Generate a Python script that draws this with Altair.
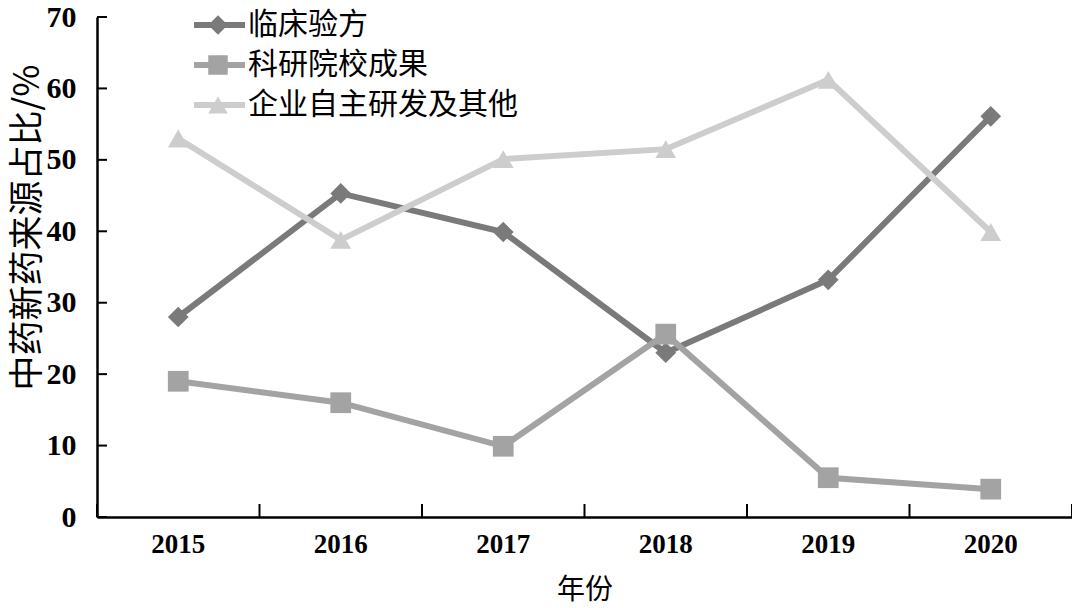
import altair as alt
import pandas as pd

years = ["2015", "2016", "2017", "2018", "2019", "2020"]
series = ["临床验方", "科研院校成果", "企业自主研发及其他"]
clinical = [28.0, 45.3, 39.9, 23.0, 33.2, 56.1]
research = [19.0, 16.0, 9.9, 25.6, 5.5, 3.9]
enterprise = [53.0, 38.8, 50.1, 51.5, 61.2, 39.9]
y_ticks = [0, 10, 20, 30, 40, 50, 60, 70]

colors = ["#7a7a7a", "#a3a3a3", "#cdcdcd"]
shapes = ["diamond", "square", "triangle-up"]

rows = []
for name, vals in zip(series, [clinical, research, enterprise]):
    for yr, v in zip(years, vals):
        rows.append({"year": yr, "series": name, "value": v})
df = pd.DataFrame(rows)

num_font = "Liberation Serif"
cjk_font = "Noto Sans CJK SC"

color_enc = alt.Color("series:N", scale=alt.Scale(domain=series, range=colors), legend=None)
shape_enc = alt.Shape("series:N", scale=alt.Scale(domain=series, range=shapes), legend=None)

x_enc = alt.X(
    "year:N",
    sort=years,
    scale=alt.Scale(domain=years, paddingInner=0, paddingOuter=0),
    axis=alt.Axis(
        title="年份",
        titleFont=cjk_font,
        titleFontSize=28,
        titleFontWeight="normal",
        titleColor="black",
        titleBaseline="middle",
        titleY=73,
        labelFont=num_font,
        labelFontSize=27,
        labelFontWeight="bold",
        labelColor="black",
        labelPadding=14,
        labelAngle=0,
        ticks=False,
        domainColor="black",
        domainWidth=2.5,
        grid=False,
    ),
)

y_enc = alt.Y(
    "value:Q",
    scale=alt.Scale(domain=[0, 70], nice=False, zero=True),
    axis=alt.Axis(
        title="中药新药来源占比/%",
        titleFont=cjk_font,
        titleFontSize=35,
        titleFontWeight="normal",
        titleColor="black",
        titleAngle=-90,
        titleAlign="center",
        titleBaseline="middle",
        titleX=-70,
        titleY=210,
        values=y_ticks,
        labelFont=num_font,
        labelFontSize=30,
        labelFontWeight="bold",
        labelColor="black",
        labelPadding=21,
        ticks=False,
        domainColor="black",
        domainWidth=2.5,
        grid=False,
    ),
)

base = alt.Chart(df)

lines = base.mark_line(strokeWidth=6).encode(x=x_enc, y=y_enc, color=color_enc, detail="series:N")
points = base.mark_point(filled=True, opacity=1, size=430).encode(
    x=alt.X("year:N", sort=years), y="value:Q", color=color_enc, shape=shape_enc
)

tick_df = pd.DataFrame({"year": years})
xticks_start = alt.Chart(tick_df).mark_rule(color="black", strokeWidth=2).encode(
    x=alt.X("year:N", sort=years, bandPosition=0),
    y=alt.value(500),
    y2=alt.value(487),
)
xticks_end = alt.Chart(pd.DataFrame({"year": [years[-1]]})).mark_rule(color="black", strokeWidth=2).encode(
    x=alt.X("year:N", sort=years, bandPosition=1),
    y=alt.value(500),
    y2=alt.value(487),
)

ytick_df = pd.DataFrame({"value": y_ticks})
yticks = alt.Chart(ytick_df).mark_rule(color="black", strokeWidth=2).encode(
    y="value:Q",
    x=alt.value(0),
    x2=alt.value(10),
)

main = alt.layer(lines, points, xticks_start, xticks_end, yticks)

leg_df = pd.DataFrame({"series": series})
leg_y = alt.Y("series:N", sort=series, scale=alt.Scale(domain=series, range=[-12, 108]), axis=None)
leg_line = alt.Chart(leg_df).mark_rule(strokeWidth=6).encode(
    x=alt.value(97), x2=alt.value(148), y=leg_y, color=color_enc
)
leg_pt = alt.Chart(leg_df).mark_point(filled=True, opacity=1, size=380).encode(
    x=alt.value(121), y=leg_y, color=color_enc, shape=shape_enc
)
leg_txt = alt.Chart(leg_df).mark_text(
    align="left", baseline="middle", font=cjk_font, fontSize=30, color="black"
).encode(x=alt.value(151), y=leg_y, text="series:N")
legend = alt.layer(leg_line, leg_pt, leg_txt)

chart = (
    alt.layer(main, legend)
    .resolve_scale(y="independent")
    .properties(
        width=975,
        height=500,
        autosize=alt.AutoSizeParams(type="none"),
        padding={"left": 89, "top": 9, "right": 0, "bottom": 91},
        background="white",
    )
    .configure_view(stroke=None)
)

chart.save("out.html", embed_options={"renderer": "svg", "actions": False})
